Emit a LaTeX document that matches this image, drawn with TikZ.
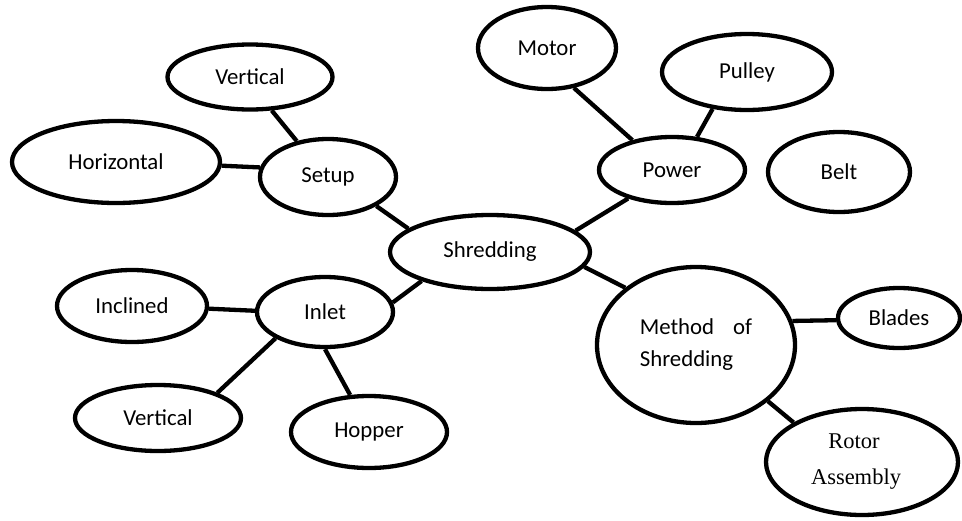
\documentclass[tikz,border=0pt]{standalone}
\usepackage{fontspec}
\setmainfont{Carlito}
\newfontfamily\timesf{Liberation Serif}
\usetikzlibrary{shapes.geometric}
\tikzset{
  bub/.style={ellipse, draw=black, line width=4.3pt, inner sep=0pt, fill=white,
    font=\fontsize{22.8}{27}\selectfont},
  link/.style={line width=4.3pt, line cap=butt}
}
\begin{document}
\begin{tikzpicture}[x=1pt,y=-1pt]
\useasboundingbox (0,0) rectangle (962,520);
\fill[white] (0,0) rectangle (962,520);
% nodes
\node[bub, minimum width=165, minimum height=65] (vtop) at (250,77) {Vertical};
\node[bub, minimum width=208, minimum height=82] (horiz) at (116,162) {Horizontal};
\node[bub, minimum width=136, minimum height=76] (setup) at (328,177) {Setup};
\node[bub, minimum width=138, minimum height=82] (motor) at (547,48) {Motor};
\node[bub, minimum width=170, minimum height=76] (pulley) at (747,72) {Pulley};
\node[bub, minimum width=146, minimum height=66] (power) at (672,170) {Power};
\node[bub, minimum width=142, minimum height=80] (belt) at (839,172) {Belt};
\node[bub, minimum width=200, minimum height=74] (shred) at (490,252) {Shredding};
\node[bub, minimum width=136, minimum height=70] (inlet) at (325,312) {Inlet};
\node[bub, minimum width=150, minimum height=72] (incl) at (132,306) {Inclined};
\node[bub, minimum width=166, minimum height=66] (vbot) at (158,418) {Vertical};
\node[bub, minimum width=156, minimum height=72] (hopper) at (369,432) {Hopper};
\node[bub, minimum width=198, minimum height=156, align=left,
  font=\fontsize{22.8}{32}\selectfont] (method) at (696,345) {Method\hspace{19pt}of\\Shredding};
\node[bub, minimum width=122, minimum height=60] (blades) at (899,318) {Blades};
\node[bub, minimum width=192, minimum height=106, align=center,
  font=\timesf\fontsize{22.5}{36}\selectfont] (rotor) at (862,462) {\hspace*{-16pt}Rotor\\\hspace*{-12pt}Assembly};
% connectors
\draw[link] (vtop.-57) -- (setup.131);
\draw[link] (horiz.-2) -- (setup.172);
\draw[link] (setup.-31) -- (shred.164);
\draw[link] (motor.-56) -- (power.143);
\draw[link] (pulley.-133) -- (power.53);
\draw[link] (power.-147) -- (shred.14);
\draw[link] (shred.-9) -- (method.141);
\draw[link] (method.14) -- (blades.182);
\draw[link] (method.-38) -- (rotor.150);
\draw[link] (inlet.8) -- (shred.-157);
\draw[link] (incl.-2) -- (inlet.179);
\draw[link] (inlet.-152) -- (vbot.23);
\draw[link] (inlet.-90) -- (hopper.117);
\end{tikzpicture}
\end{document}
